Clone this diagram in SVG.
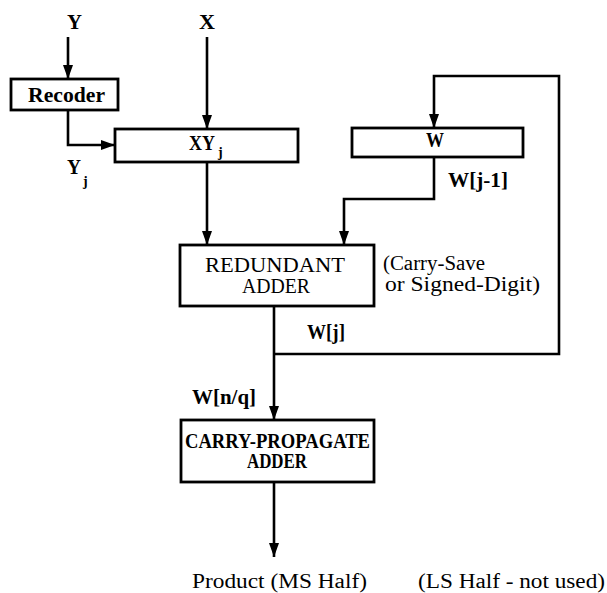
<svg xmlns="http://www.w3.org/2000/svg" width="607" height="593" viewBox="0 0 607 593">
<defs>
<style>
.box{fill:#fff;stroke:#000;stroke-width:2.8}
.ln{fill:none;stroke:#000;stroke-width:2.6;stroke-linejoin:miter}
.t{font-family:"Liberation Serif","Times New Roman",serif;font-size:20px;fill:#000}
.b{font-weight:bold}
.s{font-size:14px}
</style>
<marker id="ah" viewBox="0 0 14 10" refX="14" refY="5" markerWidth="14" markerHeight="10" markerUnits="userSpaceOnUse" orient="auto">
<path d="M0,0 L14,5 L0,10 Z" fill="#000"/>
</marker>
</defs>
<rect width="607" height="593" fill="#fff"/>

<g id="connectors">
<path class="ln" d="M68,37 V79" marker-end="url(#ah)"/>
<path class="ln" d="M68,110 V145 H115" marker-end="url(#ah)"/>
<path class="ln" d="M207,37 V129" marker-end="url(#ah)"/>
<path class="ln" d="M207,162 V245" marker-end="url(#ah)"/>
<path class="ln" d="M434,157 V199 H344 V245" marker-end="url(#ah)"/>
<path class="ln" d="M274,354 H559 V76 H434 V128" marker-end="url(#ah)"/>
<path class="ln" d="M274,306 V420" marker-end="url(#ah)"/>
<path class="ln" d="M274,482 V557" marker-end="url(#ah)"/>
</g>

<g id="label-Y"><text class="t b" x="67" y="29" textLength="15" lengthAdjust="spacingAndGlyphs">Y</text></g>
<g id="label-X"><text class="t b" x="199" y="29" textLength="16" lengthAdjust="spacingAndGlyphs">X</text></g>

<g id="recoder">
<rect class="box" x="11" y="79" width="107" height="31"/>
<text class="t b" x="28" y="102" textLength="77" lengthAdjust="spacingAndGlyphs">Recoder</text>
</g>

<g id="label-Yj">
<text class="t b" x="67" y="174" textLength="14" lengthAdjust="spacingAndGlyphs">Y</text>
<text class="t b s" x="83" y="186">j</text>
</g>

<g id="xy">
<rect class="box" x="115" y="129" width="183" height="33"/>
<text class="t b" x="189" y="150" textLength="26" lengthAdjust="spacingAndGlyphs">XY</text>
<text class="t b s" x="218" y="157">j</text>
</g>

<g id="w">
<rect class="box" x="352" y="128" width="171" height="29"/>
<text class="t b" x="426" y="147" textLength="18" lengthAdjust="spacingAndGlyphs">W</text>
</g>

<g id="label-wj1"><text class="t b" x="448" y="187" textLength="60" lengthAdjust="spacingAndGlyphs">W[j-1]</text></g>

<g id="redundant-adder">
<rect class="box" x="180" y="245" width="194" height="61"/>
<text class="t" x="205" y="272" textLength="140" lengthAdjust="spacingAndGlyphs">REDUNDANT</text>
<text class="t" x="242" y="293" textLength="68" lengthAdjust="spacingAndGlyphs">ADDER</text>
</g>

<g id="label-carry-save">
<text class="t" x="383" y="270" font-size="17" textLength="102" lengthAdjust="spacingAndGlyphs">(Carry-Save</text>
<text class="t" x="385" y="291" font-size="17" textLength="155" lengthAdjust="spacingAndGlyphs">or Signed-Digit)</text>
</g>

<g id="label-wj"><text class="t b" x="307" y="339" textLength="38" lengthAdjust="spacingAndGlyphs">W[j]</text></g>
<g id="label-wnq"><text class="t b" x="192" y="404" textLength="64" lengthAdjust="spacingAndGlyphs">W[n/q]</text></g>

<g id="carry-propagate-adder">
<rect class="box" x="181" y="420" width="193" height="62"/>
<text class="t b" x="185" y="448" font-size="14" textLength="185" lengthAdjust="spacingAndGlyphs">CARRY-PROPAGATE</text>
<text class="t b" x="247" y="468" font-size="14" textLength="60" lengthAdjust="spacingAndGlyphs">ADDER</text>
</g>

<g id="label-product"><text class="t" x="192" y="588" textLength="175" lengthAdjust="spacingAndGlyphs">Product (MS  Half)</text></g>
<g id="label-ls"><text class="t" x="418" y="588" textLength="187" lengthAdjust="spacingAndGlyphs">(LS  Half - not used)</text></g>
</svg>
